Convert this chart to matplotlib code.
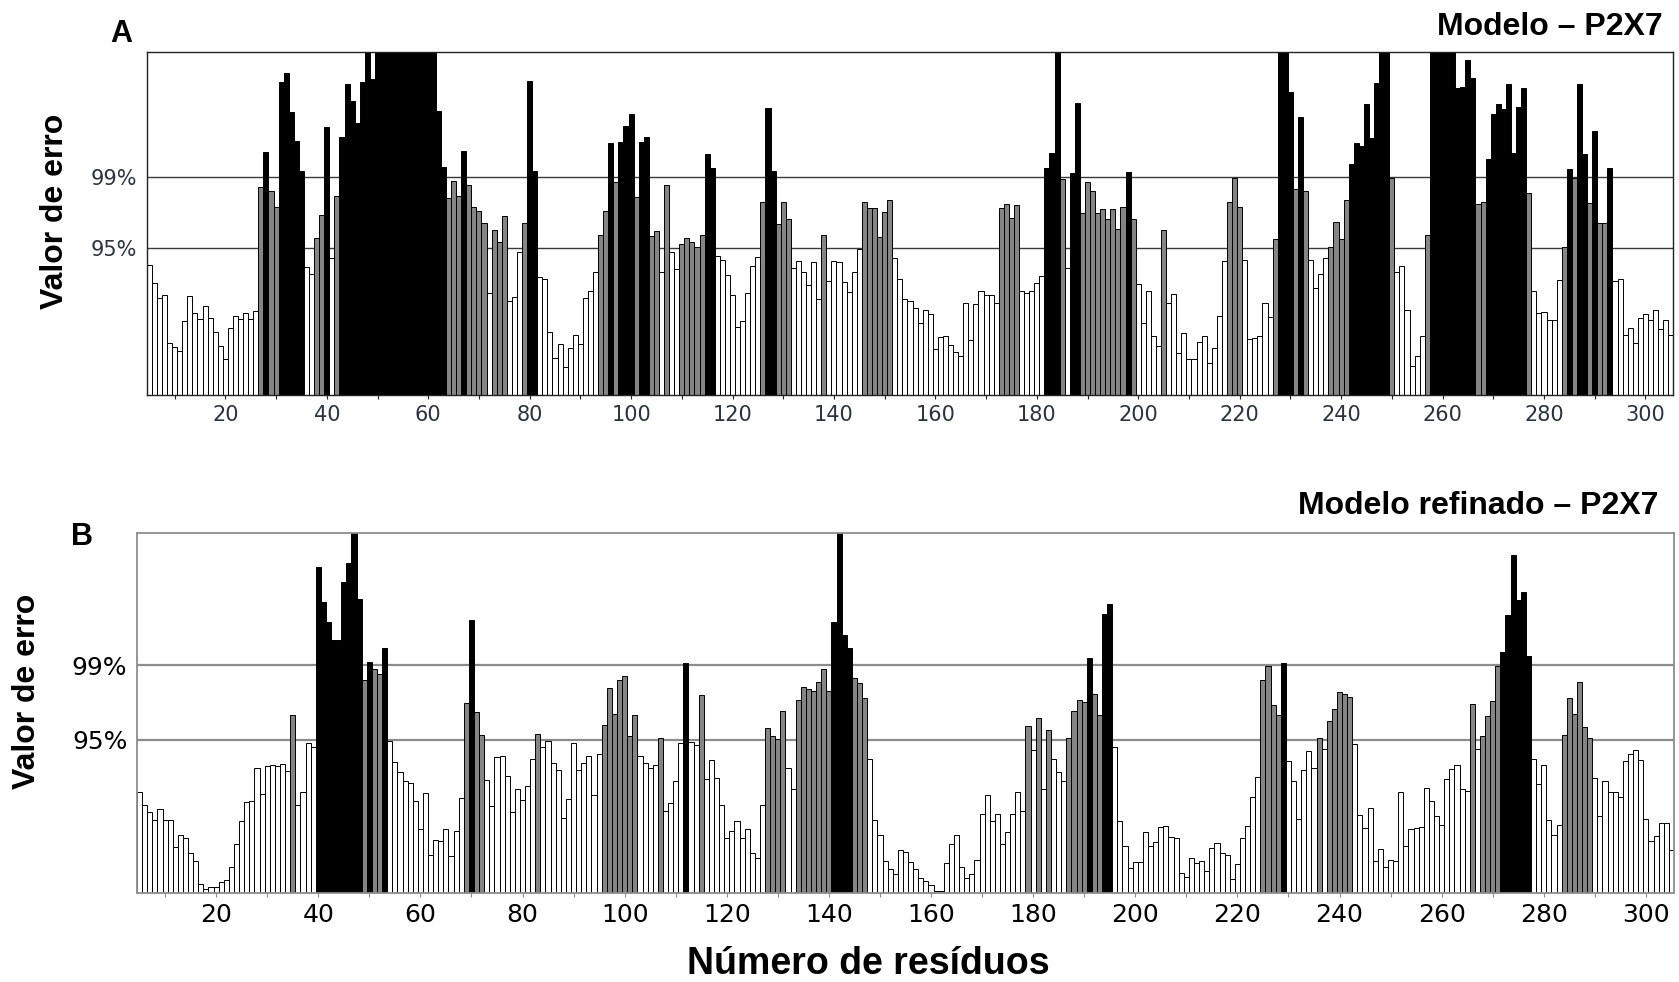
import matplotlib
matplotlib.use("Agg")
import matplotlib.pyplot as plt
from matplotlib.ticker import MultipleLocator

plt.rcParams['font.family'] = ['Liberation Sans', 'DejaVu Sans']

# residue numbers (one bar per residue)
residues = list(range(5, 306))

# error values (same units for both panels; 110 = off the top)
erro_modelo = [
    39.0, 33.5, 29.2, 30.0, 15.7, 14.5, 13.2, 22.2, 29.7, 24.5,   # 5-14
    22.8, 26.7, 23.0, 19.0, 14.7, 10.8, 20.2, 23.8, 22.7, 24.5,   # 15-24
    22.8, 25.2, 62.5, 72.8, 61.3, 56.3, 94.0, 96.5, 85.0, 76.2,   # 25-34
    67.2, 38.3, 36.4, 47.0, 54.0, 80.5, 41.0, 59.7, 77.5, 93.2,   # 35-44
    88.2, 81.5, 94.0, 110, 94.7, 110, 110, 110, 110, 110,         # 45-54
    110, 110, 110, 110, 110, 110, 110, 85.3, 68.3, 59.0,          # 55-64
    64.2, 59.7, 73.2, 63.0, 56.3, 55.3, 51.5, 30.5, 49.5, 45.8,   # 65-74
    53.7, 28.3, 29.5, 43.0, 51.5, 94.3, 67.2, 35.3, 34.7, 19.0,   # 75-84
    11.2, 15.3, 8.3, 14.0, 18.0, 15.3, 29.2, 31.2, 36.8, 48.0,    # 85-94
    55.3, 75.5, 63.8, 76.0, 80.8, 84.2, 59.3, 76.0, 77.4, 47.8,   # 95-104
    49.2, 36.8, 63.0, 42.8, 37.8, 45.3, 47.0, 46.0, 44.3, 48.0,   # 105-114
    72.2, 68.0, 41.8, 40.5, 36.0, 30.0, 20.5, 22.2, 30.7, 38.8,   # 115-124
    41.3, 58.0, 86.0, 67.2, 51.3, 57.8, 52.8, 38.0, 40.2, 36.8,   # 125-134
    33.0, 39.8, 28.8, 48.0, 34.2, 40.2, 39.8, 33.8, 31.0, 36.8,   # 135-144
    43.8, 57.8, 56.0, 56.0, 47.5, 54.8, 58.5, 41.0, 34.8, 28.7,   # 145-154
    28.3, 26.0, 21.5, 25.5, 24.3, 13.7, 17.3, 17.7, 15.0, 12.8,   # 155-164
    11.7, 27.5, 16.5, 27.2, 31.2, 30.0, 30.0, 27.5, 56.0, 57.3,   # 165-174
    53.2, 57.0, 31.2, 30.5, 31.2, 33.5, 35.8, 68.0, 72.5, 110,    # 175-184
    64.7, 38.0, 66.7, 87.5, 54.5, 63.8, 61.3, 54.5, 55.7, 52.7,   # 185-194
    55.7, 49.7, 56.4, 67.0, 52.7, 33.2, 21.5, 31.2, 17.7, 14.7,   # 195-204
    49.5, 27.5, 30.2, 12.5, 18.5, 10.8, 10.8, 15.8, 17.7, 9.7,    # 205-214
    14.0, 23.8, 40.2, 57.8, 65.0, 56.5, 40.5, 16.7, 17.0, 17.7,   # 215-224
    27.5, 23.5, 46.7, 110, 110, 91.0, 61.8, 83.5, 61.3, 40.5,     # 225-234
    32.0, 36.2, 41.0, 44.5, 52.0, 46.7, 58.5, 69.2, 75.7, 74.7,   # 235-244
    87.2, 77.2, 93.7, 110, 110, 65.0, 36.8, 38.8, 25.5, 8.7,      # 245-254
    11.7, 17.7, 48.0, 110, 110, 110, 110, 110, 92.0, 92.5,        # 255-264
    100.5, 95.2, 57.3, 57.8, 70.8, 84.3, 87.2, 85.8, 93.2, 72.5,  # 265-274
    86.5, 92.0, 60.5, 31.2, 24.5, 25.0, 22.5, 22.5, 34.5, 44.5,   # 275-284
    67.7, 65.0, 93.2, 72.2, 57.5, 79.3, 51.5, 51.5, 68.0, 34.2,   # 285-294
    34.8, 18.0, 20.0, 15.5, 23.0, 24.2, 22.5, 25.5, 19.8, 22.5,   # 295-304
    18.0,                                                         # 305
]

erro_refinado = [
    29.0, 25.2, 23.3, 20.9, 24.0, 21.1, 21.1, 13.3, 16.8, 15.9,   # 5-14
    11.4, 9.3, 2.7, 1.2, 1.7, 1.7, 3.3, 3.8, 7.4, 14.1,           # 15-24
    20.8, 26.1, 26.5, 35.8, 28.3, 36.3, 36.6, 36.4, 36.9, 34.9,   # 25-34
    51.0, 25.2, 29.0, 43.0, 42.0, 93.3, 83.4, 77.5, 72.4, 72.5,   # 35-44
    89.2, 94.6, 104, 84.3, 61.1, 66.3, 64.2, 62.8, 70.3, 43.5,    # 45-54
    37.5, 34.7, 32.2, 31.6, 26.4, 18.3, 28.7, 11.1, 15.2, 14.9,   # 55-64
    18.3, 10.6, 17.9, 27.4, 54.4, 78.2, 52.0, 45.3, 32.5, 24.9,   # 65-74
    39.0, 39.2, 33.7, 23.3, 29.9, 26.6, 30.6, 38.5, 45.6, 42.0,   # 75-84
    43.5, 37.4, 35.2, 21.6, 26.9, 43.0, 35.2, 37.4, 39.2, 28.2,   # 85-94
    39.9, 48.2, 58.7, 51.3, 61.0, 62.1, 44.9, 51.0, 39.2, 37.4,   # 95-104
    35.9, 36.6, 44.5, 23.6, 25.9, 32.1, 43.0, 65.8, 43.3, 42.5,   # 105-114
    56.8, 32.8, 38.2, 33.1, 25.2, 15.9, 17.9, 20.6, 15.9, 18.3,   # 115-124
    11.6, 10.2, 25.2, 47.3, 45.0, 44.2, 52.3, 35.9, 29.9, 55.4,   # 125-134
    59.1, 58.5, 57.8, 60.6, 64.2, 57.8, 77.5, 104, 74.0, 70.3,    # 135-144
    61.6, 60.1, 55.8, 38.3, 20.9, 16.8, 9.3, 6.9, 5.4, 12.4,      # 145-154
    11.9, 9.0, 7.1, 4.5, 3.6, 2.4, 0.8, 0.8, 8.7, 14.0,           # 155-164
    16.8, 7.4, 4.3, 5.4, 9.5, 22.8, 28.2, 20.6, 22.8, 14.1,       # 165-174
    17.6, 22.8, 29.0, 23.5, 48.0, 40.9, 50.2, 29.9, 46.8, 38.5,   # 175-184
    34.7, 32.0, 44.5, 52.3, 55.4, 54.8, 67.2, 57.0, 51.0, 79.8,   # 185-194
    82.7, 42.0, 20.6, 13.6, 7.3, 9.0, 9.0, 17.6, 13.5, 14.7,      # 195-204
    19.0, 19.3, 16.2, 15.7, 5.7, 4.8, 10.2, 8.7, 9.3, 6.4,        # 205-214
    13.0, 14.4, 11.4, 11.1, 4.0, 8.4, 15.9, 19.2, 27.6, 33.3,     # 215-224
    61.1, 65.1, 54.0, 51.0, 65.8, 38.0, 32.0, 21.2, 35.2, 40.6,   # 225-234
    35.8, 44.5, 41.2, 49.4, 52.6, 57.7, 57.0, 56.1, 42.6, 22.5,   # 235-244
    18.8, 24.4, 9.2, 12.8, 7.4, 9.5, 9.3, 29.0, 13.5, 18.3,       # 245-254
    18.8, 19.0, 30.2, 26.3, 22.1, 19.5, 32.6, 35.6, 36.8, 29.9,   # 255-264
    29.3, 54.2, 41.2, 45.0, 50.7, 55.1, 65.0, 69.1, 79.6, 96.7,   # 265-274
    83.9, 86.3, 67.8, 38.3, 31.4, 36.6, 20.9, 16.6, 19.5, 45.2,   # 275-284
    55.8, 51.3, 60.4, 47.5, 44.5, 33.1, 22.1, 32.0, 29.0, 29.0,   # 285-294
    27.6, 37.8, 39.9, 40.9, 38.2, 21.4, 14.9, 16.3, 20.0, 20.2,   # 295-304
    12.5,                                                         # 305
]

# confidence limits (95% / 99%)
lim95 = 44.0
lim99 = 65.3
lim_labels = ['95%', '99%']
tick_pos = list(range(20, 301, 20))

assert len(erro_modelo) == len(residues) and len(erro_refinado) == len(residues)


def cores(vals):
    out = []
    for v in vals:
        if v > lim99:
            out.append('black')
        elif v > lim95:
            out.append('#858585')
        else:
            out.append('white')
    return out


def painel(ax, vals, line_col, line_w, spine_col, spine_w, tick_col, tick_size, ypad):
    ax.bar(residues, vals, width=1.0, color=cores(vals), edgecolor='black',
           linewidth=0.7, zorder=2)
    ax.axhline(lim95, color=line_col, lw=line_w, zorder=1)
    ax.axhline(lim99, color=line_col, lw=line_w, zorder=1)
    ax.set_xlim(4.5, 305.5)
    ax.set_ylim(0, 103)
    ax.set_xticks(tick_pos)
    ax.xaxis.set_minor_locator(MultipleLocator(10))
    ax.tick_params(axis='x', which='both', direction='out', length=3, width=0.8,
                   color=spine_col, labelsize=tick_size, labelcolor=tick_col, pad=4)
    ax.set_yticks([lim95, lim99])
    ax.set_yticklabels(lim_labels)
    ax.tick_params(axis='y', length=0, labelsize=tick_size, labelcolor=tick_col, pad=ypad)
    for lab in ax.get_xticklabels() + ax.get_yticklabels():
        lab.set_family('DejaVu Sans')
    for s in ax.spines.values():
        s.set_color(spine_col)
        s.set_linewidth(spine_w)
        s.set_zorder(3)


fig = plt.figure(figsize=(16.79, 9.82), dpi=100)
axA = fig.add_axes([0.0874, 0.5978, 0.9092, 0.3496])
axB = fig.add_axes([0.0816, 0.0903, 0.9154, 0.3666])

painel(axA, erro_modelo, '#3a3a3a', 1.0, '#222222', 1.0, '#2a3340', 15, 7)
painel(axB, erro_refinado, '#8c8c8c', 1.6, '#8c8c8c', 1.3, 'black', 18, 7)

W, H = 1679.0, 982.0
fig.text(110 / W, 1 - 34 / H, 'A', fontsize=22, fontweight='bold', ha='left', va='center')
fig.text(71 / W, 1 - 537 / H, 'B', fontsize=22, fontweight='bold', ha='left', va='center')
fig.text(1663 / W, 1 - 27 / H, 'Modelo \u2013 P2X7', fontsize=23, fontweight='bold',
         ha='right', va='center')
fig.text(1658 / W, 1 - 506 / H, 'Modelo refinado \u2013 P2X7', fontsize=23,
         fontweight='bold', ha='right', va='center')
fig.text(55 / W, 1 - 211 / H, 'Valor de erro', fontsize=23, fontweight='bold',
         rotation=90, ha='center', va='center')
fig.text(27 / W, 1 - 691 / H, 'Valor de erro', fontsize=23, fontweight='bold',
         rotation=90, ha='center', va='center')
fig.text(868 / W, 1 - 964 / H, 'N\u00famero de res\u00edduos', fontsize=27,
         fontweight='bold', ha='center', va='center')

fig.savefig('out.png', dpi=100)
